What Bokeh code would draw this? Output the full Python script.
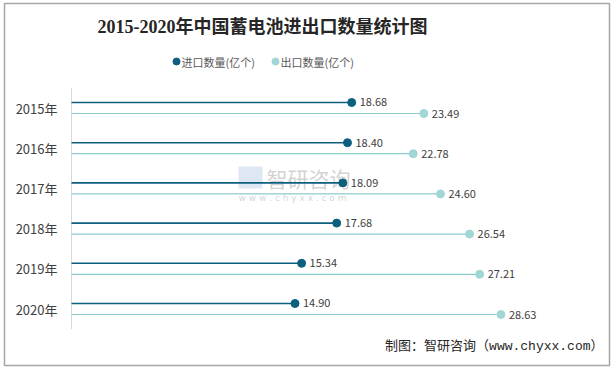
from bokeh.plotting import figure
from bokeh.models import Range1d, ColumnDataSource
from bokeh.core.properties import value
from bokeh.embed import file_html
from bokeh.resources import INLINE

years = ["2015年", "2016年", "2017年", "2018年", "2019年", "2020年"]
imports = [18.68, 18.40, 18.09, 17.68, 15.34, 14.90]
exports = [23.49, 22.78, 24.60, 26.54, 27.21, 28.63]
series_names = ["进口数量(亿个)", "出口数量(亿个)"]
title_text = "2015-2020年中国蓄电池进出口数量统计图"
footer_text = "制图：智研咨询（www.chyxx.com）"

C_IMP = "#0d5f80"
C_EXP = "#a1d6d7"
C_EXP_LINE = "#8ccacf"
TXT = "#404040"
CJK = "Noto Sans CJK SC"

# pixel -> data helpers (x: 0 at px 71, 15 px/unit; y: row 0 centre at px 107.5, 40.2 px/unit)
def dx(px):
    return (px - 71) / 15.0

def dy(py):
    return (py - 107.5) / 40.2

W, H = 614, 369
p = figure(width=W, height=H, output_backend="svg", toolbar_location=None,
           x_axis_location=None, y_axis_location=None,
           min_border_left=4, min_border_right=5, min_border_top=3, min_border_bottom=4,
           x_range=Range1d(dx(4), dx(609)), y_range=Range1d(dy(365), dy(3)))
p.grid.visible = False
p.outline_line_color = "#a6a6a6"
p.outline_line_width = 1.5
p.background_fill_color = "white"
p.border_fill_color = "white"

idx = list(range(len(years)))
off = 0.137
y_imp = [i - off for i in idx]
y_exp = [i + off for i in idx]
src = ColumnDataSource(dict(year=years, idx=idx, imp=imports, exp=exports,
                            y_imp=y_imp, y_exp=y_exp, zero=[0] * len(years),
                            imp_lbl=["%.2f" % v for v in imports],
                            exp_lbl=["%.2f" % v for v in exports]))

# watermark
p.text(x=[dx(266)], y=[dy(177)], text=["智研咨询"], text_font=value(CJK),
       text_font_size="21px", text_color="#9a9a9a", text_alpha=0.45,
       text_baseline="middle", text_align="left")
p.text(x=[dx(238)], y=[dy(197)], text=["w w w . c h y x x . c o m"], text_font=value("DejaVu Sans"),
       text_font_size="9px", text_color="#9a9a9a", text_alpha=0.45,
       text_baseline="middle", text_align="left")
p.quad(left=[dx(238)], right=[dx(262)], top=[dy(166)], bottom=[dy(188)],
       fill_color="#8fb3d9", fill_alpha=0.3, line_color=None)

# y axis line
p.segment(x0=[0], y0=[-0.5], x1=[0], y1=[len(years) - 0.5], line_color="#d9d9d9", line_width=1)

# lollipops
p.segment(x0="zero", y0="y_exp", x1="exp", y1="y_exp", source=src, line_color=C_EXP_LINE, line_width=1.2)
p.segment(x0="zero", y0="y_imp", x1="imp", y1="y_imp", source=src, line_color=C_IMP, line_width=1.6)
p.scatter(x="exp", y="y_exp", source=src, size=8, fill_color=C_EXP, line_color=C_EXP)
p.scatter(x="imp", y="y_imp", source=src, size=8, fill_color=C_IMP, line_color=C_IMP)

# value labels
p.text(x="imp", y="y_imp", text="imp_lbl", source=src, x_offset=8, text_baseline="middle",
       text_font=value(CJK), text_font_size="11px", text_color=TXT)
p.text(x="exp", y="y_exp", text="exp_lbl", source=src, x_offset=8, text_baseline="middle",
       text_font=value(CJK), text_font_size="11px", text_color=TXT)

# category labels
p.text(x="zero", y="idx", text="year", source=src, x_offset=-14, text_align="right",
       text_baseline="middle", text_font=value(CJK), text_font_size="13px", text_color=TXT)

# title
p.text(x=[dx(262)], y=[dy(26)], text=[title_text], text_align="center", text_baseline="middle",
       text_font=value("Liberation Serif, Noto Sans CJK SC"), text_font_size="18px",
       text_font_style="bold", text_color="#262626")

# legend
p.scatter(x=[dx(176), dx(275)], y=[dy(61), dy(61)], size=7, fill_color=[C_IMP, C_EXP], line_color=[C_IMP, C_EXP])
p.text(x=[dx(181), dx(280)], y=[dy(61), dy(61)], text=series_names, text_align="left",
       text_baseline="middle", text_font=value(CJK), text_font_size="11px", text_color="#595959")

# footer
p.text(x=[dx(603)], y=[dy(346)], text=[footer_text], text_align="right", text_baseline="middle",
       text_font=value("Liberation Mono, Noto Sans CJK SC"), text_font_size="13px", text_color="#262626")

open("out.html", "w").write(file_html(p, INLINE))
